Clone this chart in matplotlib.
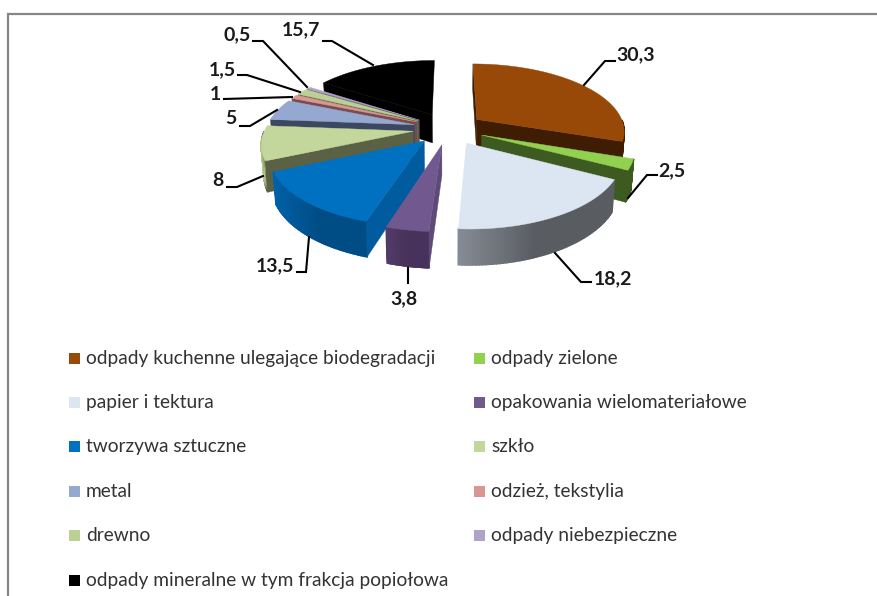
import matplotlib

matplotlib.use("Agg")
import matplotlib.pyplot as plt
import numpy as np
from matplotlib.colors import to_rgb
from matplotlib.patches import Polygon, Rectangle

plt.rcParams["font.family"] = ["Lato", "DejaVu Sans"]

categories = [
    "odpady kuchenne ulegające biodegradacji", "odpady zielone",
    "papier i tektura", "opakowania wielomateriałowe",
    "tworzywa sztuczne", "szkło", "metal", "odzież, tekstylia",
    "drewno", "odpady niebezpieczne",
    "odpady mineralne w tym frakcja popiołowa",
]
values = [30.3, 2.5, 18.2, 3.8, 13.5, 8, 5, 1, 1.5, 0.5, 15.7]
value_labels = ["30,3", "2,5", "18,2", "3,8", "13,5", "8", "5", "1", "1,5", "0,5", "15,7"]

top_colors = ["#984807", "#92D050", "#DCE6F2", "#71588F", "#0070C0", "#C3D69B",
              "#95A9D0", "#D99694", "#BBD094", "#B3A2C7", "#000000"]
radial_colors = ["#3F1D03", "#3D5A20", "#595D62", "#5E4A78", "#005C9E", "#5A6145",
                 "#3C4760", "#7B4A4A", "#5F6B48", "#5A5070", "#000000"]
arc_left = ["#3F1D03", "#3D5A20", "#868C96", "#523B68", "#0060A8", "#B5C98F",
            "#3C4760", "#7B4A4A", "#5F6B48", "#5A5070", "#000000"]
arc_right = ["#3F1D03", "#3D5A20", "#595D62", "#46325A", "#004C84", "#5A6145",
             "#3C4760", "#7B4A4A", "#5F6B48", "#5A5070", "#000000"]

# pixel layout of the 3d pie
CX, CY = 448.5, 128.5
RX, RY = 148.0, 67.0
PERSP = 0.16
EXPLODE = 0.24
DEPTH = 29.0
BOTTOM_SHRINK = 0.985

# leader lines and label centres, one per slice
leaders = [
    [(584, 85), (605, 61), (615, 61)],
    [(628, 198), (647, 175), (657, 175)],
    [(555, 253), (581, 282), (591, 282)],
    [(408, 268), (408, 283)],
    [(309, 237), (306, 272), (297, 272)],
    [(263, 176), (237, 187), (227, 187)],
    [(277, 110), (250, 126), (240, 126)],
    [(292, 97), (224, 99)],
    [(300, 92), (247, 75), (238, 75)],
    [(307, 87), (263, 41), (253, 41)],
    [(373, 65), (332, 41), (323, 41)],
]
label_pos = [(636, 55), (672, 171), (613, 279), (404, 299), (275, 266), (218, 181),
             (231, 119), (215, 94), (222, 70), (237, 35), (301, 30)]

legend_x = [69, 474]
legend_y = [358, 402, 446, 491, 535, 580]


def project(u, v, drop=False):
    p = 1.0 / (1.0 + PERSP * v)
    x = RX * u * p
    y = -RY * v * p
    if drop:
        return CX + x * BOTTOM_SHRINK, CY + y + DEPTH * p
    return CX + x, CY + y


def add_poly(ax, pts, color, z, lw=0.3):
    ax.add_patch(Polygon(pts, closed=True, facecolor=color, edgecolor=color,
                         linewidth=lw, zorder=z))


def draw_slice(ax, i, start, end, z):
    mid = np.radians((start + end) / 2)
    ox, oy = EXPLODE * np.sin(mid), EXPLODE * np.cos(mid)
    th = np.radians(np.linspace(start, end, 60))
    us, vs = ox + np.sin(th), oy + np.cos(th)
    apex_t = project(ox, oy)
    apex_b = project(ox, oy, True)
    rim_t = [project(u, v) for u, v in zip(us, vs)]
    rim_b = [project(u, v, True) for u, v in zip(us, vs)]

    # outer arc, in thin strips for the gradient
    left, right = np.array(to_rgb(arc_left[i])), np.array(to_rgb(arc_right[i]))
    xs = [p[0] for p in rim_t]
    span = max(max(xs) - min(xs), 1.0)
    for k in range(len(th) - 1):
        if np.cos(th[k]) + np.cos(th[k + 1]) > 0:
            continue
        t = min(1.0, 2.0 * (rim_t[k][0] - min(xs)) / span)
        add_poly(ax, [rim_t[k], rim_t[k + 1], rim_b[k + 1], rim_b[k]],
                 left + (right - left) * t, z, lw=1.2)

    # radial faces that look towards the viewer
    if np.sin(np.radians(start)) <= 0.001:
        add_poly(ax, [apex_t, rim_t[0], rim_b[0], apex_b], radial_colors[i], z + 0.2)
    if np.cos(np.radians(end + 90)) < 0:
        add_poly(ax, [apex_t, rim_t[-1], rim_b[-1], apex_b], radial_colors[i], z + 0.2)

    add_poly(ax, [apex_t] + rim_t, top_colors[i], z + 0.5)


fig = plt.figure(figsize=(8.77, 5.96), dpi=100)
ax = fig.add_axes([0, 0, 1, 1])
ax.set_xlim(0, 877)
ax.set_ylim(596, 0)
ax.axis("off")

ax.plot([8, 8, 877], [596, 14, 14], color="#868686", lw=1.6, solid_joinstyle="miter")

angles = np.concatenate([[0], np.cumsum(values)]) / sum(values) * 360
paint_order = [10, 9, 8, 7, 6, 5, 4, 3, 0, 1, 2]
for z, i in enumerate(paint_order):
    draw_slice(ax, i, angles[i], angles[i + 1], 2 + z)

for pts, label, pos in zip(leaders, value_labels, label_pos):
    xs, ys = zip(*pts)
    ax.plot(xs, ys, color="black", lw=1.5, zorder=20, solid_joinstyle="miter")
    ax.text(pos[0], pos[1], label, fontsize=14, fontweight="bold", color="#1a1a1a",
            ha="center", va="center", zorder=21)

for n, (name, color) in enumerate(zip(categories, top_colors)):
    x = legend_x[n % 2]
    y = legend_y[n // 2]
    ax.add_patch(Rectangle((x, y - 5.5), 11, 11, facecolor=color, edgecolor="none"))
    ax.text(x + 17, y + 6, name, fontsize=13.8, color="#333333", ha="left", va="baseline")

fig.savefig("out.png", dpi=100)
